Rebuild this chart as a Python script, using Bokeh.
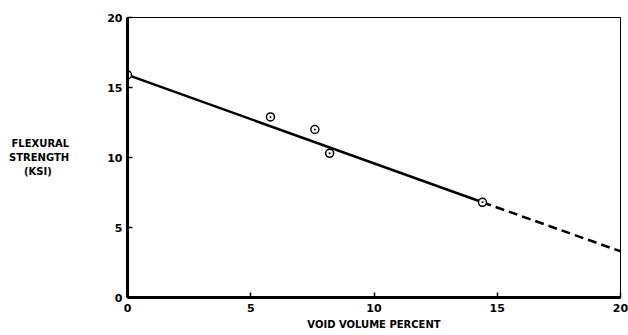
from bokeh.plotting import figure
from bokeh.models import Range1d, FixedTicker
from bokeh.embed import file_html
from bokeh.resources import INLINE

void_pct = [0.0, 5.8, 7.6, 8.2, 14.4]
strength = [15.9, 12.9, 12.0, 10.3, 6.8]
fit_x = [0.0, 14.4]
fit_y = [15.9, 6.8]
ext_x = [14.4, 20.0]
ext_y = [6.8, 3.3]
ticks = [0, 5, 10, 15, 20]
ylabel_lines = ["FLEXURAL", "STRENGTH", "(KSI)"]

FONT = "DejaVu Sans"
NBSP = "\u00a0"

p = figure(width=628, height=335, frame_width=493, frame_height=280,
           min_border_left=127, min_border_top=17, min_border_right=8, min_border_bottom=38,
           x_range=Range1d(0, 20), y_range=Range1d(0, 20),
           output_backend="svg", toolbar_location=None)
p.xgrid.visible = False
p.ygrid.visible = False
p.outline_line_color = "black"
p.outline_line_width = 1
p.background_fill_color = "white"
p.border_fill_color = "white"

for ax in (p.xaxis[0], p.yaxis[0]):
    ax.ticker = FixedTicker(ticks=ticks)
    ax.axis_line_width = 3
    ax.axis_line_color = "black"
    ax.major_tick_in = 5
    ax.major_tick_out = 0
    ax.major_tick_line_width = 1.5
    ax.minor_tick_line_color = None
    ax.major_label_text_font = FONT
    ax.major_label_text_font_style = "bold"
    ax.major_label_text_font_size = "11px"
    ax.major_label_text_color = "black"
p.xaxis.major_label_standoff = 6
p.yaxis.major_label_standoff = 5

p.xaxis.axis_label = "VOID VOLUME PERCENT"
p.xaxis.axis_label_text_font = FONT
p.xaxis.axis_label_text_font_style = "bold"
p.xaxis.axis_label_text_font_size = "10px"
p.xaxis.axis_label_text_color = "black"
p.xaxis.axis_label_standoff = 4

# pad lines so the right-aligned block reads as centred
pads = [0, 0, 5]
p.yaxis.axis_label = "\n".join(t + NBSP * n for t, n in zip(ylabel_lines, pads))
p.yaxis.axis_label_orientation = "horizontal"
p.yaxis.axis_label_text_font = FONT
p.yaxis.axis_label_text_font_style = "bold"
p.yaxis.axis_label_text_font_size = "10px"
p.yaxis.axis_label_text_color = "black"
p.yaxis.axis_label_text_align = "center"
p.yaxis.axis_label_text_line_height = 1.3
p.yaxis.axis_label_standoff = 35

p.line(fit_x, fit_y, line_color="black", line_width=2.5)
p.line(ext_x, ext_y, line_color="black", line_width=2.5, line_dash="9 5")
p.scatter(void_pct, strength, marker="circle_dot", size=8, line_color="black",
          line_width=1.5, fill_color="white")

open("out.html", "w").write(file_html(p, INLINE))
